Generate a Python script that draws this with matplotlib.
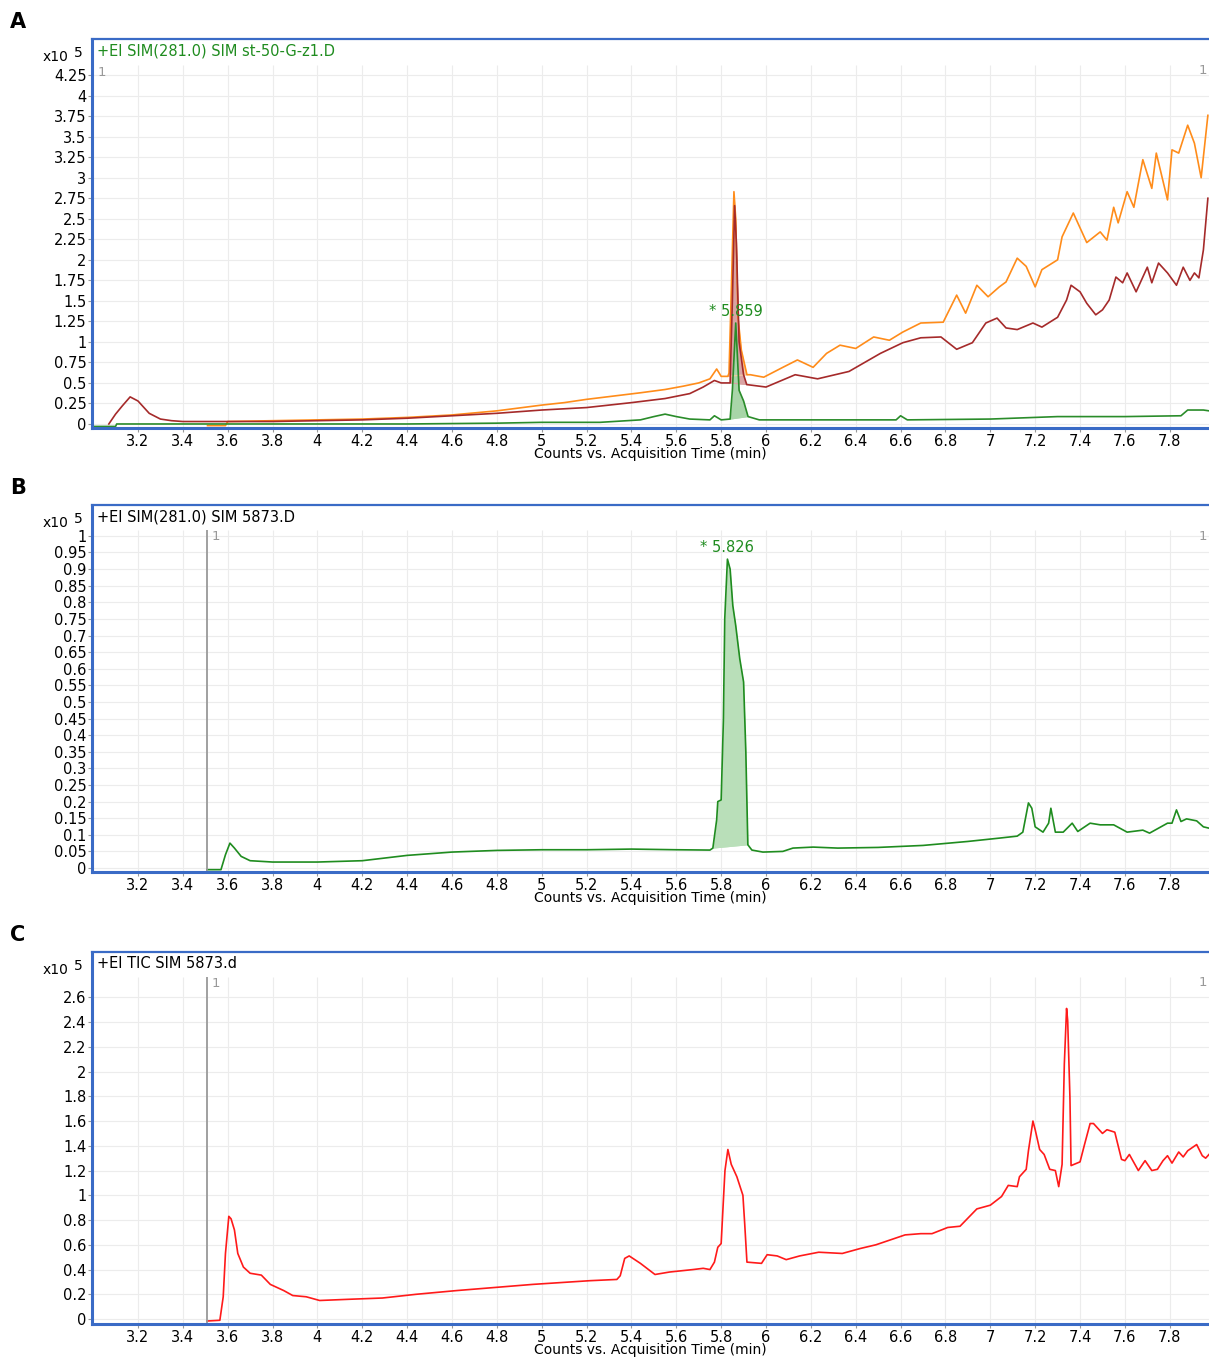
import numpy as np
import matplotlib
matplotlib.use("Agg")
import matplotlib.pyplot as plt
from matplotlib.ticker import FuncFormatter

plt.rcParams['font.family'] = ['DejaVu Sans']

# ---- data (counts x10^5 vs acquisition time in min) ----
# Panel A: three overlaid SIM traces
a_orange_t = [3.51, 3.59, 3.6, 3.8, 4.0, 4.2, 4.4, 4.6, 4.8, 5.0, 5.1, 5.2, 5.26, 5.35, 5.44,
              5.55, 5.63, 5.7, 5.75, 5.78, 5.8, 5.83, 5.835, 5.845, 5.857, 5.865, 5.875, 5.89,
              5.915, 5.93, 5.99, 6.075, 6.14, 6.21, 6.27, 6.33, 6.40, 6.48, 6.55, 6.61, 6.69,
              6.79, 6.85, 6.89, 6.94, 6.99, 7.04, 7.07, 7.12, 7.16, 7.20, 7.23, 7.30, 7.32,
              7.37, 7.43, 7.49, 7.52, 7.55, 7.57, 7.61, 7.64, 7.68, 7.72, 7.74, 7.79, 7.81,
              7.84, 7.88, 7.91, 7.94, 7.97]
a_orange_v = [-0.02, -0.02, 0.03, 0.04, 0.05, 0.06, 0.08, 0.11, 0.16, 0.23, 0.26, 0.3, 0.32,
              0.35, 0.38, 0.42, 0.46, 0.5, 0.55, 0.67, 0.58, 0.58, 0.62, 1.6, 2.83, 2.5, 1.3,
              0.9, 0.6, 0.6, 0.57, 0.69, 0.78, 0.69, 0.86, 0.96, 0.92, 1.06, 1.02, 1.12, 1.23,
              1.24, 1.57, 1.35, 1.69, 1.55, 1.67, 1.73, 2.02, 1.92, 1.67, 1.88, 2.00, 2.28,
              2.57, 2.21, 2.34, 2.24, 2.64, 2.45, 2.83, 2.64, 3.22, 2.87, 3.30, 2.73, 3.34,
              3.30, 3.64, 3.42, 3.00, 3.76]

a_red_t = [3.07, 3.1, 3.13, 3.165, 3.2, 3.25, 3.3, 3.35, 3.4, 3.6, 3.8, 4.0, 4.2, 4.4, 4.6,
           4.8, 5.0, 5.2, 5.4, 5.55, 5.66, 5.72, 5.77, 5.8, 5.84, 5.85, 5.86, 5.868, 5.88, 5.9,
           5.914, 6.00, 6.13, 6.23, 6.37, 6.51, 6.61, 6.69, 6.78, 6.85, 6.92, 6.98, 7.03, 7.07,
           7.12, 7.19, 7.23, 7.30, 7.34, 7.36, 7.40, 7.43, 7.47, 7.50, 7.53, 7.56, 7.59, 7.61,
           7.65, 7.70, 7.72, 7.75, 7.79, 7.83, 7.86, 7.89, 7.91, 7.93, 7.95, 7.97]
a_red_v = [0.0, 0.12, 0.22, 0.33, 0.28, 0.13, 0.06, 0.04, 0.03, 0.03, 0.03, 0.04, 0.05, 0.07,
           0.10, 0.13, 0.17, 0.20, 0.26, 0.31, 0.37, 0.45, 0.53, 0.5, 0.5, 1.5, 2.66, 2.2, 1.0,
           0.6, 0.48, 0.45, 0.60, 0.55, 0.64, 0.86, 0.99, 1.05, 1.06, 0.91, 0.99, 1.23, 1.29,
           1.17, 1.15, 1.23, 1.18, 1.30, 1.51, 1.69, 1.61, 1.47, 1.33, 1.39, 1.51, 1.79, 1.72,
           1.84, 1.61, 1.91, 1.72, 1.96, 1.84, 1.69, 1.91, 1.75, 1.84, 1.78, 2.12, 2.75]

a_green_t = [2.995, 3.1, 3.105, 3.6, 4.0, 4.4, 4.8, 5.0, 5.26, 5.44, 5.5, 5.55, 5.6, 5.66, 5.75,
             5.77, 5.80, 5.84, 5.85, 5.865, 5.88, 5.90, 5.92, 5.97, 6.3, 6.58, 6.6, 6.63, 7.0,
             7.3, 7.6, 7.85, 7.88, 7.95, 7.975]
a_green_v = [-0.03, -0.03, 0.0, 0.0, 0.0, 0.0, 0.01, 0.02, 0.02, 0.05, 0.09, 0.12, 0.09, 0.06,
             0.05, 0.10, 0.05, 0.06, 0.41, 1.23, 0.41, 0.28, 0.09, 0.05, 0.05, 0.05, 0.10, 0.05,
             0.06, 0.09, 0.09, 0.10, 0.17, 0.17, 0.16]

# Panel B: SIM(281.0) of 5873.D
b_t = [3.507, 3.57, 3.59, 3.61, 3.63, 3.66, 3.7, 3.8, 4.0, 4.2, 4.4, 4.6, 4.8, 5.0, 5.2, 5.4,
       5.6, 5.75, 5.763, 5.78, 5.785, 5.80, 5.81, 5.816, 5.828, 5.84, 5.852, 5.865, 5.883, 5.90,
       5.91, 5.919, 5.937, 5.986, 6.075, 6.12, 6.21, 6.32, 6.5, 6.7, 6.9, 7.04, 7.12, 7.145,
       7.17, 7.185, 7.20, 7.235, 7.26, 7.27, 7.29, 7.325, 7.365, 7.39, 7.445, 7.49, 7.55, 7.61,
       7.68, 7.71, 7.79, 7.81, 7.83, 7.85, 7.875, 7.92, 7.95, 7.975]
b_v = [-0.005, -0.005, 0.04, 0.075, 0.06, 0.035, 0.022, 0.018, 0.018, 0.022, 0.038, 0.048,
       0.053, 0.055, 0.055, 0.057, 0.055, 0.054, 0.06, 0.145, 0.20, 0.205, 0.445, 0.75, 0.93,
       0.90, 0.79, 0.73, 0.63, 0.56, 0.35, 0.07, 0.054, 0.048, 0.05, 0.06, 0.063, 0.06, 0.062,
       0.068, 0.08, 0.09, 0.096, 0.108, 0.196, 0.18, 0.124, 0.108, 0.135, 0.18, 0.108, 0.108,
       0.135, 0.11, 0.135, 0.13, 0.13, 0.108, 0.114, 0.105, 0.135, 0.135, 0.175, 0.14, 0.148,
       0.142, 0.124, 0.12]

# Panel C: TIC of 5873.d
c_t = [3.507, 3.565, 3.58, 3.59, 3.605, 3.615, 3.63, 3.645, 3.67, 3.70, 3.75, 3.79, 3.85,
       3.89, 3.95, 4.01, 4.145, 4.29, 4.44, 4.62, 4.96, 5.215, 5.335, 5.35, 5.37, 5.39, 5.44,
       5.505, 5.57, 5.675, 5.72, 5.75, 5.77, 5.785, 5.80, 5.81, 5.817, 5.83, 5.845, 5.87,
       5.897, 5.905, 5.915, 5.98, 6.005, 6.05, 6.09, 6.15, 6.235, 6.34, 6.42, 6.49, 6.62,
       6.69, 6.74, 6.81, 6.865, 6.94, 7.0, 7.05, 7.08, 7.12, 7.13, 7.16, 7.17, 7.19, 7.20,
       7.22, 7.24, 7.265, 7.29, 7.305, 7.32, 7.33, 7.34, 7.345, 7.355, 7.36, 7.40, 7.42, 7.445,
       7.46, 7.50, 7.52, 7.555, 7.585, 7.60, 7.62, 7.66, 7.69, 7.72, 7.745, 7.77, 7.79, 7.81,
       7.84, 7.86, 7.88, 7.92, 7.945, 7.96, 7.975]
c_v = [-0.016, -0.01, 0.18, 0.53, 0.83, 0.81, 0.72, 0.53, 0.42, 0.37, 0.355, 0.28, 0.23, 0.19,
       0.18, 0.15, 0.16, 0.17, 0.20, 0.23, 0.28, 0.31, 0.32, 0.35, 0.49, 0.51, 0.45, 0.36, 0.38,
       0.40, 0.41, 0.40, 0.46, 0.58, 0.61, 0.96, 1.20, 1.37, 1.25, 1.15, 1.00, 0.77, 0.46,
       0.45, 0.52, 0.51, 0.48, 0.51, 0.54, 0.53, 0.57, 0.60, 0.68, 0.69, 0.69, 0.74, 0.75,
       0.89, 0.92, 0.99, 1.08, 1.07, 1.15, 1.21, 1.36, 1.60, 1.53, 1.37, 1.33, 1.21, 1.20, 1.07,
       1.25, 2.06, 2.51, 2.41, 1.79, 1.24, 1.27, 1.41, 1.58, 1.58, 1.50, 1.53, 1.51, 1.29, 1.28,
       1.33, 1.20, 1.28, 1.20, 1.21, 1.28, 1.32, 1.26, 1.35, 1.31, 1.36, 1.41, 1.32, 1.30, 1.33]

# integrated peaks (start, end) and labels
a_peak = (5.84, 5.92)
a_orange_peak = (5.83, 5.915)
a_red_peak = (5.84, 5.914)
b_peak = (5.763, 5.919)
a_label = "* 5.859"
b_label = "* 5.826"

titles = ["+EI SIM(281.0) SIM st-50-G-z1.D", "+EI SIM(281.0) SIM 5873.D", "+EI TIC SIM 5873.d"]
title_colors = ["#1f8c1f", "black", "black"]
panel_letters = ["A", "B", "C"]
xticks = np.round(np.arange(3.2, 7.81, 0.2), 1)
yticks_list = [np.round(np.arange(0, 4.26, 0.25), 2),
               np.round(np.arange(0, 1.001, 0.05), 2),
               np.round(np.arange(0, 2.61, 0.2), 1)]

# ---- layout ----
W, H = 1209, 1360
fig = plt.figure(figsize=(W / 100, H / 100), dpi=100)

blue = "#3a6bc6"
grid_c = "#ececec"
fs = 10.5
# (top px, bottom px, ymin, ymax, grid top value)
boxes = [(39, 428, -0.049, 4.69, 4.37),
         (505, 872, -0.012, 1.093, 1.018),
         (952, 1324, -0.04, 2.966, 2.76)]
xlim = (2.995, 7.975)
axes = []
for i, (top, bot, y0, y1, gtop) in enumerate(boxes):
    ax = fig.add_axes([92 / W, 1 - bot / H, 1 - 92 / W, (bot - top) / H])
    ax.set_xlim(*xlim)
    ax.set_ylim(y0, y1)
    ax.set_xticks(xticks)
    ax.set_yticks(yticks_list[i])
    ax.xaxis.set_major_formatter(FuncFormatter(lambda v, p: "%g" % round(v, 2)))
    ax.yaxis.set_major_formatter(FuncFormatter(lambda v, p: "%g" % round(v, 2)))
    ax.tick_params(direction="out", length=3, width=0.8, color="#999999",
                   labelsize=fs, pad=1)
    ax.grid(axis="y", color=grid_c, lw=0.8)
    ax.vlines(xticks, y0, gtop, color=grid_c, lw=0.8, zorder=0)
    ax.set_axisbelow(True)
    for s in ["left", "bottom"]:
        ax.spines[s].set_color(blue)
        ax.spines[s].set_linewidth(2.2)
    ax.spines["top"].set_color(blue)
    ax.spines["top"].set_linewidth(1.6)
    ax.spines["right"].set_visible(False)
    ax.set_xlabel("Counts vs. Acquisition Time (min)", fontsize=10)
    ax.xaxis.set_label_coords(0.5, -19 / (bot - top))
    ax.text(5 / 1117, 1 - 12 / (bot - top), titles[i], transform=ax.transAxes,
            color=title_colors[i], fontsize=fs, va="center", ha="left")
    fig.text(18 / W, 1 - (top - 17) / H, panel_letters[i], fontsize=15, fontweight="bold",
             ha="center", va="center")
    fig.text(56 / W, 1 - (top + 18) / H, "x10", fontsize=10, ha="center", va="center")
    fig.text(78 / W, 1 - (top + 14) / H, "5", fontsize=10, ha="center", va="center")
    # marker label at right edge
    ax.text((1207 - 92) / 1117, 1 - 31 / (bot - top), "1", transform=ax.transAxes,
            color="#999999", fontsize=9.5, ha="right", va="center")
    axes.append(ax)

axA, axB, axC = axes


def shade_peak(ax, t, v, peak, color):
    t = np.asarray(t)
    v = np.asarray(v)
    m = (t >= peak[0]) & (t <= peak[1])
    base = np.interp(t[m], [peak[0], peak[1]], np.interp(peak, t, v))
    ax.fill_between(t[m], base, v[m], color=color, lw=0)
    ax.plot(peak, np.interp(peak, t, v), color=color, lw=0.8)


# Panel A
shade_peak(axA, a_orange_t, a_orange_v, a_orange_peak, "#f6c9a3")
shade_peak(axA, a_red_t, a_red_v, a_red_peak, "#d9a3a3")
axA.plot(a_orange_t, a_orange_v, color="#ff8c1a", lw=1.2)
axA.plot(a_red_t, a_red_v, color="#a52a2a", lw=1.2)
shade_peak(axA, a_green_t, a_green_v, a_peak, "#a8d5a8")
axA.plot(a_green_t, a_green_v, color="#2a8c2a", lw=1.2)
ia = int(np.argmax(a_green_v))
axA.annotate(a_label, (a_green_t[ia], a_green_v[ia]), xytext=(0, 3),
             textcoords="offset points", ha="center", va="bottom",
             color="#1f8c1f", fontsize=fs)
axA.text(3.02, 4.36, "1", color="#999999", fontsize=9.5, ha="left", va="top")

# Panel B
shade_peak(axB, b_t, b_v, b_peak, "#b9dfb9")
axB.plot(b_t, b_v, color="#1f8c1f", lw=1.2)
ib = int(np.argmax(b_v))
axB.annotate(b_label, (b_t[ib], b_v[ib]), xytext=(0, 3),
             textcoords="offset points", ha="center", va="bottom",
             color="#1f8c1f", fontsize=fs)

# Panel C
axC.plot(c_t, c_v, color="#ff1a1a", lw=1.2)

# gray start markers in B and C
for ax, gtop in [(axB, 1.018), (axC, 2.76)]:
    y0 = ax.get_ylim()[0]
    ax.vlines(b_t[0], y0, gtop, color="#999999", lw=1.3)
    ax.text(b_t[0] + 0.02, gtop, "1", color="#999999", fontsize=9.5, ha="left", va="top")

fig.savefig("out.png", dpi=100)
